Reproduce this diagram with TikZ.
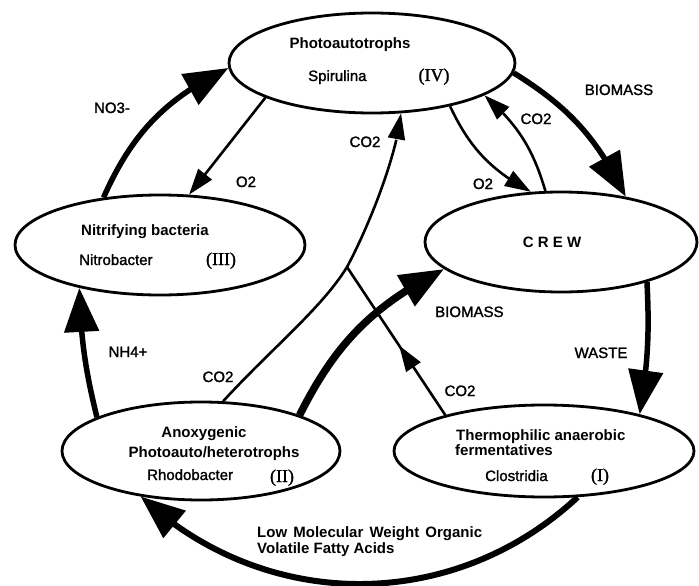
\documentclass[tikz,border=0pt]{standalone}
\usepackage{fontspec}
\setmainfont{Liberation Sans}
\newfontfamily\medfont{Liberation Sans}[FakeBold=1.5]
\newfontfamily\romfont{Liberation Serif}[FakeBold=1.5]
\usetikzlibrary{arrows.meta,bending,shapes.geometric,decorations.markings}
\begin{document}
\begin{tikzpicture}[x=1pt,y=-1pt,
  org/.style={draw, line width=2.8pt, ellipse, inner sep=0pt},
  ttl/.style={font=\fontsize{15}{16}\selectfont\bfseries, anchor=base, inner sep=0pt},
  spc/.style={font=\medfont\fontsize{15}{16}\selectfont, anchor=base, inner sep=0pt},
  rom/.style={font=\romfont\fontsize{18}{19}\selectfont, anchor=base, inner sep=0pt},
  lbl/.style={font=\medfont\fontsize{15}{16}\selectfont, anchor=base, inner sep=0pt},
  gashead/.tip={Triangle[length=26pt,width=17pt]},
  masshead/.tip={Triangle[length=44pt,width=34pt]},
  gas/.style={line width=2.6pt, -{gashead}},
  mass/.style={line width=5.5pt, -{masshead}},
]
\useasboundingbox (0,0) rectangle (699,586);

% organisms
\node[org, minimum width=286pt, minimum height=100pt] (photo) at (372,63) {};
\node[org, minimum width=290pt, minimum height=100pt] (nit) at (160,245) {};
\node[org, minimum width=272pt, minimum height=100pt] (crew) at (561,242) {};
\node[org, minimum width=278pt, minimum height=98pt] (anox) at (201,451) {};
\node[org, minimum width=300pt, minimum height=92pt] (therm) at (544,451) {};

% texts in organisms
\node[ttl] (tphoto) at (350,49) {Photoautotrophs};
\node[spc, anchor=base west] (sphoto) at (308,81) {Spirulina};
\node[rom] (rphoto) at (434,81) {(IV)};
\node[ttl, anchor=base west] (tnit) at (81,235) {Nitrifying bacteria};
\node[spc, anchor=base west] (snit) at (79,265) {Nitrobacter};
\node[rom] (rnit) at (221,265) {(III)};
\node[ttl] (tcrew) at (552,247) {C R E W};
\node[ttl] (tanox1) at (204,437) {Anoxygenic};
\node[ttl] (tanox2) at (214,457) {Photoauto/heterotrophs};
\node[spc, anchor=base west] (sanox) at (147,480) {Rhodobacter};
\node[rom] (ranox) at (282,482) {(II)};
\node[ttl, anchor=base west] (ttherm1) at (456,440) {Thermophilic anaerobic};
\node[ttl, anchor=base west] (ttherm2) at (455,455) {fermentatives};
\node[spc, anchor=base west] (stherm) at (485,481) {Clostridia};
\node[rom] (rtherm) at (600,481) {(I)};

% connectors
\coordinate (J) at (347,267);
\draw[mass] (nit.140) to[bend left=20] (photo.182);
\draw[gas] (photo.198) -- (nit.60);
\draw[gas] (anox.66) .. controls (270,350) and (322,308) .. (J)
  .. controls (366,232) and (396,160) .. (photo.300);
\draw[line width=2.6pt, postaction={decorate},
  decoration={markings, mark=at position 0.47 with {\arrow{gashead}}}]
  (therm.160) -- (J);
\draw[gas] (photo.331) to[bend right=18] (crew.121);
\draw[gas] (crew.107) to[bend right=16] (photo.344);
\draw[mass] (photo.356) to[bend left=16] (crew.35);
\draw[mass, line width=7.5pt] (anox.20) to[bend left=18] (crew.193);
\draw[mass] (crew.335) to[bend left=6] (therm.21);
\draw[mass] (anox.162) to[bend left=6] (nit.208);
\draw[mass, line width=6pt] (therm.306) to[bend left=43] (anox.217);

% flow labels
\node[lbl] (lno3) at (112,113) {NO3-};
\node[lbl] (lo2a) at (246,187) {O2};
\node[lbl] (lco2a) at (365,147) {CO2};
\node[lbl] (lo2b) at (483,189) {O2};
\node[lbl] (lco2b) at (536,124) {CO2};
\node[lbl] (lbio1) at (619,95) {BIOMASS};
\node[lbl, anchor=base west] (lbio2) at (435,317) {BIOMASS};
\node[lbl] (lnh4) at (128,357) {NH4+};
\node[lbl] (lco2c) at (218,382) {CO2};
\node[lbl] (lco2d) at (460,396) {CO2};
\node[lbl] (lwaste) at (601,358) {WASTE};
\node[ttl, anchor=base west] (lvfa1) at (257,537) {Low\kern2pt{} Molecular\kern2pt{} Weight\kern2pt{} Organic};
\node[ttl, anchor=base west] (lvfa2) at (257,553) {Volatile Fatty Acids};
\end{tikzpicture}
\end{document}
